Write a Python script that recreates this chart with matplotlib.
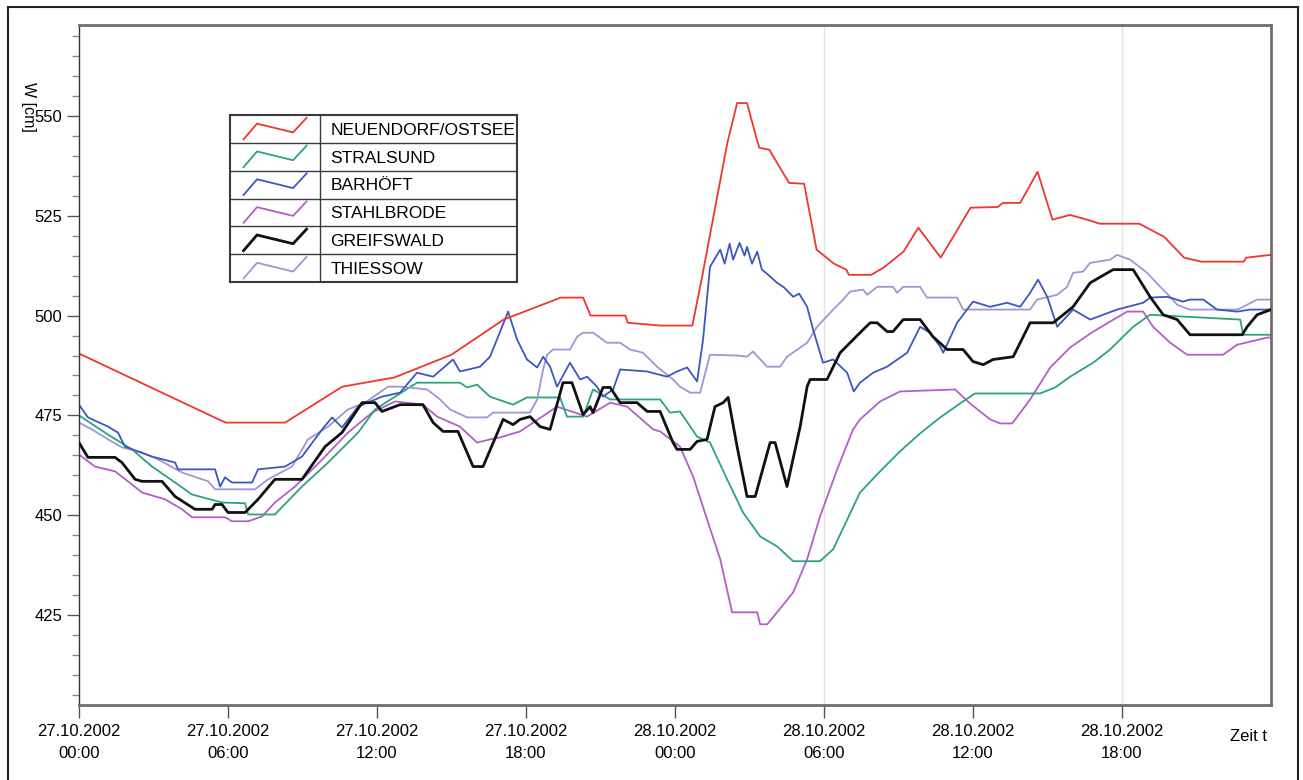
import matplotlib
matplotlib.use("Agg")
import matplotlib.pyplot as plt
from matplotlib.patches import Rectangle

plt.rcParams['font.family'] = ['Liberation Sans', 'DejaVu Sans']

# hours since 27.10.2002 00:00, water level W [cm]
t_neu = [0, 5.9, 8.3, 10.6, 12.7, 15.0, 17.1, 19.4, 20.3, 20.6, 22.0, 22.1, 23.4, 24.7, 25.1, 26.1,
         26.5, 26.9, 27.3, 27.4, 27.8, 28.4, 28.6, 29.2, 29.7, 30.4, 30.9, 31.0, 31.9, 32.4, 33.2,
         33.8, 34.7, 35.2, 35.9, 37.0, 37.2, 37.9, 38.6, 39.2, 39.9, 40.6, 41.1, 42.7, 43.7, 44.5,
         45.2, 46.9, 47.0, 48.0]
w_neu = [490.5, 473.2, 473.2, 482.2, 484.5, 490.2, 499, 504.5, 504.5, 500, 500, 498.2, 497.5, 497.5,
         510, 543, 553.2, 553.2, 544, 542, 541.5, 535.2, 533.2, 533, 516.5, 513, 511.5, 510.2, 510.2,
         512, 516, 522, 514.5, 519.7, 527, 527.2, 528.2, 528.2, 536, 524, 525.2, 524, 523, 523, 519.7,
         514.5, 513.5, 513.5, 514.5, 515.2]

t_str = [0, 1.17, 2.13, 2.94, 3.87, 4.55, 5.76, 6.69, 6.81, 7.89, 8.98, 10.03, 11.24, 11.92, 12.73,
         13.61, 15.34, 15.63, 16.03, 16.55, 17.48, 18.04, 19.37, 19.65, 20.3, 20.7, 21.39, 23.4,
         23.8, 24.2, 24.89, 25.41, 26.1, 26.74, 27.43, 28.11, 28.76, 29.84, 30.37, 31.45, 32.26,
         33.06, 33.87, 34.68, 35.48, 36.08, 38.7, 39.31, 39.91, 40.84, 41.52, 42.45, 43.13, 44.62,
         46.76, 46.88, 48]
w_str = [475, 470.2, 466.5, 462.2, 458.2, 455.2, 453.2, 453, 450.2, 450.2, 457.2, 463.2, 470.7, 476.5,
         479.7, 483.2, 483.2, 482, 482.7, 479.7, 477.7, 479.5, 479.5, 474.7, 474.7, 481.5, 479, 479,
         475.7, 476, 469.7, 468.2, 459, 450.7, 444.7, 442.2, 438.5, 438.5, 441.5, 455.7, 461, 466,
         470.5, 474.5, 478, 480.5, 480.5, 482, 484.7, 488.2, 491.5, 497.2, 500.2, 499.7, 499, 495.2,
         495.2]

t_bar = [0, 0.36, 1.17, 1.57, 1.85, 2.94, 3.87, 3.99, 5.48, 5.68, 5.88, 6.16, 6.97, 7.21, 8.3, 8.98,
         9.79, 10.19, 10.59, 11.24, 12.2, 12.93, 13.61, 14.26, 15.06, 15.34, 16.15, 16.55, 16.83,
         17.28, 17.64, 18.04, 18.45, 18.69, 18.97, 19.25, 19.77, 20.18, 20.46, 20.86, 21.1, 21.51,
         21.79, 22.88, 23.68, 24.08, 24.49, 24.89, 25.13, 25.41, 25.82, 26.0, 26.2, 26.34, 26.6,
         26.8, 26.9, 27.1, 27.31, 27.5, 27.7, 28.11, 28.4, 28.76, 29.0, 29.32, 29.56, 29.96, 30.37,
         30.93, 31.2, 31.45, 31.98, 32.54, 33.35, 33.87, 34.27, 34.68, 34.8, 35.36, 36.0, 36.69,
         37.37, 37.9, 38.3, 38.62, 38.99, 39.39, 40.03, 40.72, 41.8, 42.85, 43.13, 43.82, 44.46,
         44.74, 45.27, 45.83, 46.64, 47.16, 48]
w_bar = [477.7, 474.5, 472.2, 470.7, 467.2, 464.7, 463.2, 461.5, 461.5, 457.2, 459.5, 458.2, 458.2,
         461.5, 462.2, 464.7, 471.5, 474.5, 472, 477.2, 479.7, 480.7, 485.7, 484.7, 489, 486, 487.2,
         489.7, 494, 501, 494, 489, 487, 489.7, 487.2, 482.2, 488.2, 484, 484.7, 482.2, 479.7, 481.5,
         486.5, 486, 484.7, 486, 487, 483.5, 494, 512.2, 516.5, 513, 518, 514, 518.2, 515, 517.2, 513,
         516, 511.5, 510.5, 508.2, 507, 504.7, 505.5, 502.2, 496.5, 488.2, 489, 485.7, 481, 483.2,
         485.7, 487.2, 490.7, 497.2, 495.7, 492.2, 490.7, 498.2, 503.5, 502.2, 503.2, 502.2, 505.7,
         509, 504.7, 497.2, 501.5, 499, 501.5, 503.2, 504.5, 504.7, 503.5, 504, 504, 501.5, 501, 501.5,
         501.5]

t_sta = [0, 0.64, 1.45, 1.97, 2.54, 3.46, 4.15, 4.55, 5.88, 6.16, 6.81, 7.37, 7.89, 8.7, 9.91, 10.83,
         11.8, 12.73, 13.85, 14.42, 15.34, 16.03, 16.55, 16.96, 17.76, 19.25, 20.46, 21.39, 22.07,
         23.12, 23.4, 24.2, 24.73, 25.29, 25.82, 26.3, 27.31, 27.43, 27.71, 28.11, 28.76, 29.32,
         29.84, 30.53, 31.17, 31.45, 32.26, 33.06, 35.28, 35.88, 36.69, 37.09, 37.58, 38.3, 39.11,
         39.91, 40.72, 41.52, 42.21, 42.85, 43.25, 43.94, 44.62, 46.07, 46.64, 47.85, 48]
w_sta = [465.2, 462.2, 461, 458.5, 455.7, 454, 451.5, 449.5, 449.5, 448.5, 448.5, 449.7, 453.2, 457.2,
         464.7, 470.7, 475.7, 478.5, 477.7, 474.7, 472.2, 468.2, 469, 469.5, 471, 477.2, 474.7, 478.2,
         477.2, 471.5, 471, 467.2, 459.7, 449, 439, 425.7, 425.7, 422.7, 422.7, 425.7, 430.7, 439,
         449.7, 461.5, 471.5, 474, 478.5, 481, 481.5, 478, 474, 473, 473, 479, 487, 492, 495.5, 498.5,
         501, 501, 497.2, 493.2, 490.2, 490.2, 492.7, 494.5, 494.5]

t_gre = [0, 0.36, 1.45, 1.73, 2.26, 2.54, 3.34, 3.87, 4.67, 5.36, 5.48, 5.76, 6.0, 6.69, 7.21, 7.89,
         8.98, 9.91, 10.59, 11.4, 11.92, 12.2, 12.93, 13.85, 14.26, 14.66, 15.26, 15.87, 16.27,
         17.08, 17.48, 17.76, 18.16, 18.57, 18.97, 19.49, 19.85, 20.3, 20.58, 20.7, 21.1, 21.39,
         21.79, 22.47, 22.88, 23.4, 23.92, 24.08, 24.61, 24.89, 25.29, 25.61, 25.94, 26.14, 26.5,
         26.9, 27.23, 27.83, 28.03, 28.51, 29.04, 29.32, 29.44, 30.12, 30.65, 31.45, 31.86, 32.14,
         32.54, 32.78, 33.19, 33.87, 34.39, 34.96, 35.6, 36.0, 36.41, 36.81, 37.62, 38.3, 39.23,
         40.03, 40.72, 41.64, 42.45, 43.13, 43.66, 44.22, 44.74, 45.67, 46.84, 47.04, 47.44, 48]
w_gre = [468.2, 464.5, 464.5, 463.2, 459, 458.5, 458.5, 454.7, 451.5, 451.5, 452.7, 452.7, 450.7,
         450.7, 454, 459, 459, 467.2, 470.7, 478.2, 478.2, 476, 477.7, 477.7, 473.2, 471, 471, 462.2,
         462.2, 474, 472.7, 474, 474.7, 472.2, 471.5, 483.2, 483.2, 475.2, 477.2, 475.7, 482, 482,
         478.2, 478.2, 476, 476, 468.2, 466.5, 466.5, 468.5, 469, 477.2, 478.2, 479.5, 467.2, 454.7,
         454.7, 468.2, 468.2, 457.2, 472.2, 482.2, 484, 484, 490.7, 495.7, 498.2, 498.2, 496, 496, 499,
         499, 494.7, 491.5, 491.5, 488.5, 487.7, 489, 489.7, 498.2, 498.2, 502.2, 508.2, 511.5, 511.5,
         504.7, 500.2, 499, 495.2, 495.2, 495.2, 497.2, 500.2, 501.5]

t_thi = [0, 0.52, 1.17, 1.73, 2.54, 3.18, 4.15, 5.2, 5.48, 7.09, 7.61, 8.58, 9.22, 10.03, 10.83,
         11.52, 12.44, 12.93, 14.02, 14.54, 14.94, 15.63, 16.43, 16.67, 18.16, 18.45, 18.69, 18.85,
         19.09, 19.77, 20.06, 20.3, 20.7, 21.26, 21.79, 22.19, 22.71, 23.28, 23.92, 24.2, 24.61,
         25.01, 25.41, 26.5, 26.9, 27.14, 27.71, 28.23, 28.51, 29.32, 29.72, 30.37, 30.77, 31.05,
         31.57, 31.74, 32.14, 32.78, 32.94, 33.19, 33.87, 34.15, 35.36, 35.6, 38.3, 38.58, 39.39,
         39.79, 40.03, 40.43, 40.72, 41.52, 41.8, 42.33, 43.01, 43.54, 43.94, 44.22, 44.74, 46.64,
         46.88, 47.44, 48]
w_thi = [473.2, 471.5, 469, 467, 465.7, 464, 460.7, 458.5, 456.5, 456.5, 459, 462.2, 469, 472.2,
         476.5, 478.2, 482.2, 482.2, 481.5, 479, 476.5, 474.5, 474.5, 475.7, 475.7, 479, 486.5, 490.2,
         491.5, 491.5, 494.7, 495.7, 495.7, 493.2, 493.2, 491.5, 490.7, 487.2, 484, 482.2, 480.7,
         480.7, 490.2, 490, 489.7, 491, 487.2, 487.2, 489.7, 493.2, 497.2, 501.5, 504, 506, 506.5,
         505.2, 507.2, 507.2, 505.7, 507.2, 507.2, 504.5, 504.5, 501.5, 501.5, 504, 505.2, 507.2,
         510.7, 511, 513.2, 514, 515.2, 514, 510.7, 507.2, 504.7, 502.7, 501.5, 501.5, 502.2, 504, 504]

names = ['NEUENDORF/OSTSEE', 'STRALSUND', 'BARHÖFT', 'STAHLBRODE', 'GREIFSWALD', 'THIESSOW']
colors = ['#f0362e', '#2ba37c', '#3b57c2', '#b45ec8', '#111111', '#a096d6']
widths = [1.3, 1.3, 1.3, 1.3, 2.0, 1.3]
series = [(t_neu, w_neu), (t_str, w_str), (t_bar, w_bar), (t_sta, w_sta), (t_gre, w_gre), (t_thi, w_thi)]

tick_hours = [0, 6, 12, 18, 24, 30, 36, 42]
tick_labels = ['27.10.2002\n00:00', '27.10.2002\n06:00', '27.10.2002\n12:00', '27.10.2002\n18:00',
               '28.10.2002\n00:00', '28.10.2002\n06:00', '28.10.2002\n12:00', '28.10.2002\n18:00']

fig = plt.figure(figsize=(13.03, 7.80), dpi=100)
ax = fig.add_axes([79/1303, 1-705/780, 1192/1303, 680/780])

# faint vertical lines seen in the scan
for h in [30, 42]:
    ax.axvline(h, color='#e2e2e2', lw=1, zorder=0)

order = [3, 1, 5, 2, 0, 4]
for i in order:
    t, w = series[i]
    ax.plot(t, w, color=colors[i], lw=widths[i], zorder=2 + (i == 4))

ax.set_xlim(0, 48)
ax.set_ylim(402.5, 572.75)
ax.set_yticks([425, 450, 475, 500, 525, 550])
ax.set_yticks(list(range(405, 571, 5)), minor=True)
ax.set_xticks(tick_hours)
ax.set_xticklabels(tick_labels, linespacing=1.55)
ax.tick_params(axis='x', length=9, width=1, color='#555', pad=5, labelsize=12)
ax.tick_params(axis='y', which='major', length=9, width=1, color='#555', pad=3, labelsize=12)
ax.tick_params(axis='y', which='minor', length=5, width=1, color='#888')
for s in ['top', 'right', 'bottom']:
    ax.spines[s].set_color('#756b6b')
    ax.spines[s].set_linewidth(2)
ax.spines['left'].set_color('#333')
ax.spines['left'].set_linewidth(1)

ax.text(47.1, -0.035, 'Zeit t', transform=ax.get_xaxis_transform(), ha='center', va='top', fontsize=12)
fig.text(28/1303, 1-107/780, 'W [cm]', rotation=270, ha='center', va='center', fontsize=11.5)

# legend drawn as a table
lg = fig.add_axes([230/1303, 1-282/780, 287/1303, 167/780])
lg.set_xlim(0, 1)
lg.set_ylim(0, 6)
lg.set_xticks([])
lg.set_yticks([])
for s in lg.spines.values():
    s.set_color('#3a3a3a')
    s.set_linewidth(1.5)
col = 0.314
lg.axvline(col, color='#3a3a3a', lw=1)
for k in range(1, 6):
    lg.axhline(k, color='#3a3a3a', lw=1)
gx = [0.15 * col, 0.30 * col, 0.70 * col, 0.85 * col]
gy = [0.125, 0.69, 0.375, 0.9]
for i, name in enumerate(names):
    base = 5 - i
    lg.plot(gx, [base + y for y in gy], color=colors[i], lw=widths[i])
    lg.text(0.35, base + 0.45, name, fontsize=12.5, va='center', ha='left', clip_on=False)

fig.add_artist(Rectangle((8/1303, -0.02), 1290/1303, 1.02 - 7/780, transform=fig.transFigure,
                         fill=False, edgecolor='#222', lw=1.5))

fig.savefig('out.png', dpi=100)
